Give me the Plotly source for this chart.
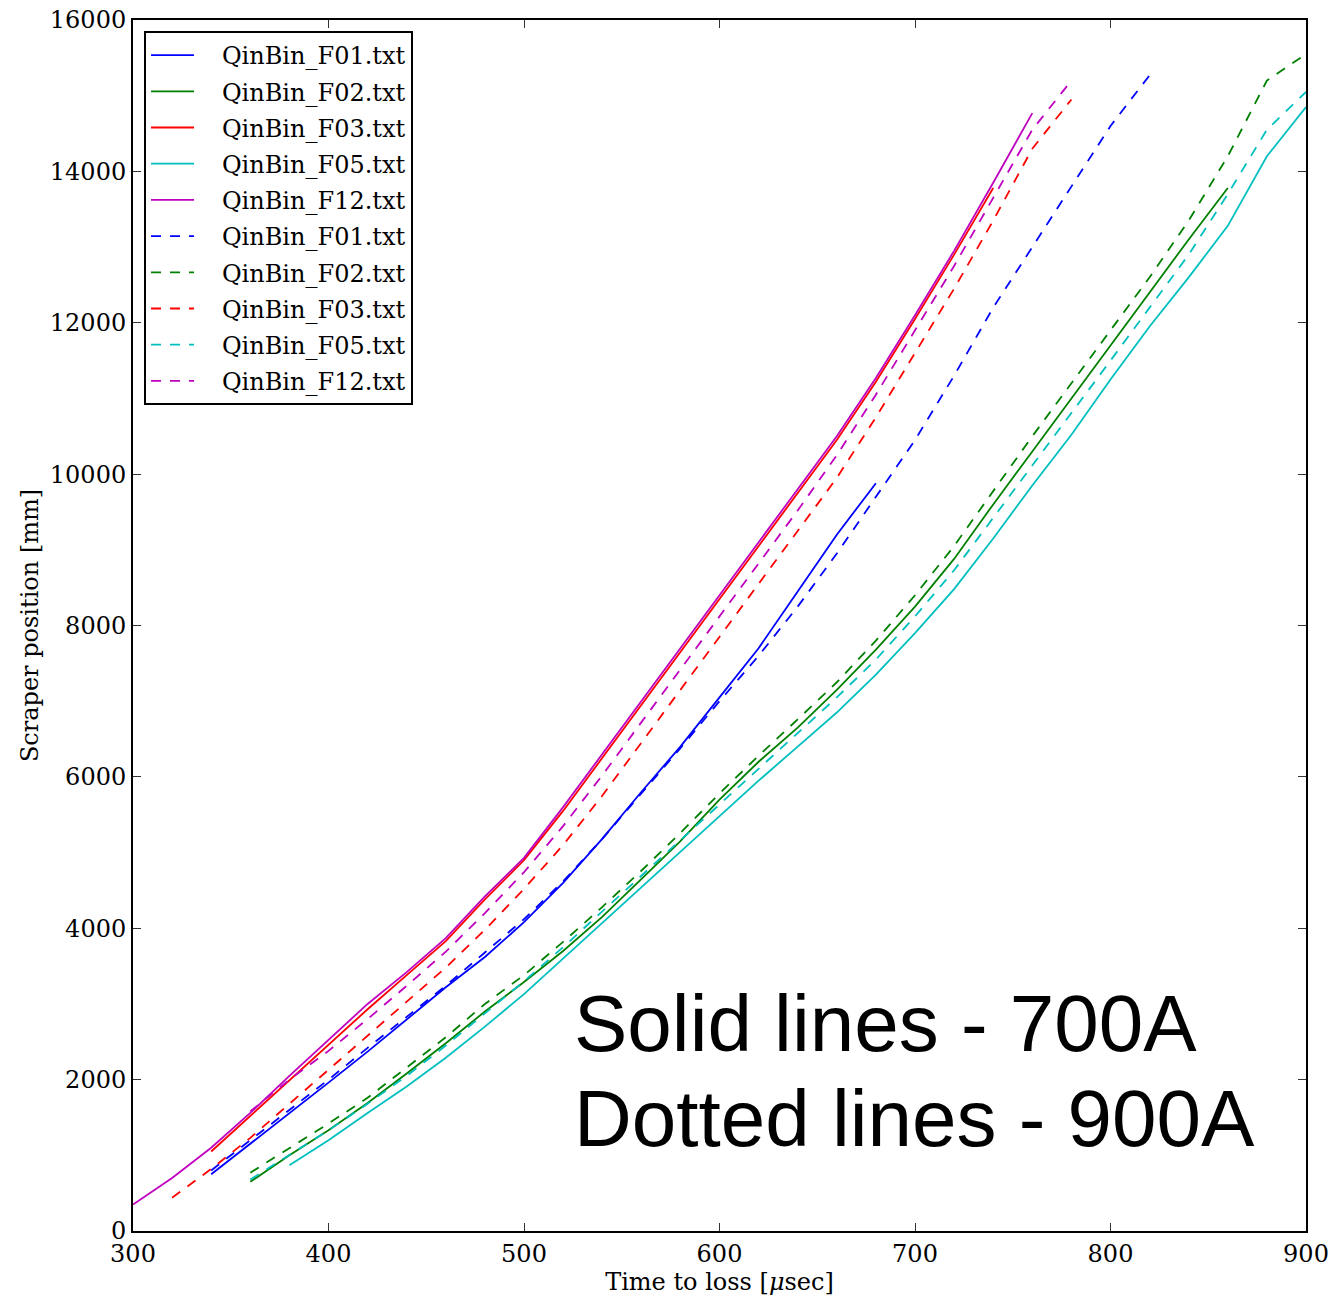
import plotly.graph_objects as go

# ---------------- data ----------------
t_f01_700 = [340, 360, 380, 400, 420, 440, 460, 480, 500, 520, 540, 560, 580, 600, 620, 640, 660, 680]
y_f01_700 = [750, 1150, 1560, 1960, 2370, 2800, 3220, 3620, 4080, 4600, 5180, 5800, 6400, 7050, 7700, 8450, 9200, 9880]

t_f02_700 = [360, 380, 400, 420, 440, 460, 480, 500, 520, 540, 560, 580, 600, 620, 640, 660, 680, 700, 720, 740, 760, 780, 800, 820, 840, 860]
y_f02_700 = [650, 1000, 1330, 1690, 2080, 2480, 2900, 3290, 3700, 4150, 4650, 5150, 5700, 6200, 6650, 7150, 7680, 8250, 8880, 9600, 10300, 11000, 11700, 12400, 13100, 13780]

t_f03_700 = [340, 360, 380, 400, 420, 440, 460, 480, 500, 520, 540, 560, 580, 600, 620, 640, 660, 680, 700, 720, 740]
y_f03_700 = [1050, 1520, 2000, 2470, 2930, 3380, 3830, 4380, 4900, 5550, 6250, 6950, 7650, 8350, 9050, 9750, 10450, 11220, 12050, 12900, 13780]

t_f05_700 = [380, 400, 420, 440, 460, 480, 500, 520, 540, 560, 580, 600, 620, 640, 660, 680, 700, 720, 740, 760, 780, 800, 820, 840, 860, 880, 900]
y_f05_700 = [870, 1200, 1560, 1910, 2290, 2700, 3130, 3600, 4080, 4550, 5020, 5480, 5950, 6400, 6850, 7350, 7900, 8480, 9150, 9850, 10520, 11250, 11950, 12600, 13280, 14200, 14850]

t_f12_700 = [300, 320, 340, 360, 380, 400, 420, 440, 460, 480, 500, 520, 540, 560, 580, 600, 620, 640, 660, 680, 700, 720, 740, 760]
y_f12_700 = [350, 700, 1100, 1560, 2050, 2530, 3000, 3420, 3870, 4420, 4930, 5600, 6300, 7000, 7700, 8400, 9100, 9800, 10500, 11270, 12100, 12950, 13850, 14770]

t_f01_900 = [340, 360, 380, 400, 420, 440, 460, 480, 500, 520, 540, 560, 580, 600, 620, 640, 660, 680, 700, 720, 740, 760, 780, 800, 820]
y_f01_900 = [800, 1200, 1600, 2000, 2420, 2830, 3240, 3680, 4120, 4620, 5180, 5780, 6380, 7000, 7600, 8250, 8950, 9700, 10450, 11300, 12200, 13000, 13800, 14600, 15270]

t_f02_900 = [360, 380, 400, 420, 440, 460, 480, 500, 520, 540, 560, 580, 600, 620, 640, 660, 680, 700, 720, 740, 760, 780, 800, 820, 840, 860, 880, 900]
y_f02_900 = [770, 1090, 1420, 1760, 2160, 2560, 3000, 3380, 3820, 4280, 4760, 5260, 5780, 6280, 6760, 7250, 7800, 8400, 9050, 9780, 10500, 11200, 11900, 12600, 13350, 14200, 15200, 15550]

t_f03_900 = [320, 340, 360, 380, 400, 420, 440, 460, 480, 500, 520, 540, 560, 580, 600, 620, 640, 660, 680, 700, 720, 740, 760, 780]
y_f03_900 = [440, 820, 1230, 1680, 2130, 2580, 3030, 3480, 3980, 4520, 5100, 5750, 6450, 7150, 7850, 8550, 9250, 9950, 10750, 11600, 12450, 13350, 14300, 14950]

t_f05_900 = [360, 380, 400, 420, 440, 460, 480, 500, 520, 540, 560, 580, 600, 620, 640, 660, 680, 700, 720, 740, 760, 780, 800, 820, 840, 860, 880, 900]
y_f05_900 = [680, 1000, 1330, 1680, 2050, 2450, 2870, 3300, 3750, 4220, 4700, 5170, 5640, 6100, 6570, 7050, 7550, 8120, 8730, 9420, 10120, 10800, 11500, 12200, 12900, 13700, 14550, 15050]

t_f12_900 = [360, 380, 400, 420, 440, 460, 480, 500, 520, 540, 560, 580, 600, 620, 640, 660, 680, 700, 720, 740, 760, 780]
y_f12_900 = [1580, 2000, 2380, 2800, 3240, 3690, 4200, 4740, 5350, 6020, 6720, 7420, 8120, 8820, 9520, 10250, 11050, 11900, 12750, 13650, 14550, 15200]

names = ["QinBin_F01.txt", "QinBin_F02.txt", "QinBin_F03.txt", "QinBin_F05.txt", "QinBin_F12.txt"]
colors = ["#0000ff", "#008000", "#ff0000", "#00bfbf", "#bf00bf"]

solid = [(t_f01_700, y_f01_700), (t_f02_700, y_f02_700), (t_f03_700, y_f03_700),
         (t_f05_700, y_f05_700), (t_f12_700, y_f12_700)]
dashed = [(t_f01_900, y_f01_900), (t_f02_900, y_f02_900), (t_f03_900, y_f03_900),
          (t_f05_900, y_f05_900), (t_f12_900, y_f12_900)]

x_ticks = [300, 400, 500, 600, 700, 800, 900]
y_ticks = [0, 2000, 4000, 6000, 8000, 10000, 12000, 14000, 16000]

pad = "\u00a0\u00a0\u00a0"
fig = go.Figure()
k = 0
for (t, y), n, c in zip(solid, names, colors):
    fig.add_trace(go.Scatter(x=t, y=y, mode="lines", name=pad + n, legendgroup=f"g{k}",
                             line=dict(color=c, width=1.8)))
    k += 1
for (t, y), n, c in zip(dashed, names, colors):
    fig.add_trace(go.Scatter(x=t, y=y, mode="lines", name=pad + n, legendgroup=f"g{k}",
                             line=dict(color=c, width=1.8, dash="10px,9px")))
    k += 1

serif = "DejaVu Serif"
axis_common = dict(showgrid=False, zeroline=False, showline=True, linecolor="black",
                   linewidth=2, mirror="ticks", ticks="inside", ticklen=8,
                   tickcolor="#333333", tickwidth=1, automargin=False,
                   tickfont=dict(family=serif, size=24, color="black"))

fig.update_layout(
    width=1335, height=1299,
    margin=dict(l=133, r=29, t=20, b=68),
    paper_bgcolor="white", plot_bgcolor="white",
    xaxis=dict(range=[300, 900], tickvals=x_ticks, ticktext=[str(v) for v in x_ticks],
               title=dict(text="Time to loss [<i>μ</i>sec]", font=dict(family=serif, size=24, color="black"),
                          standoff=3),
               **axis_common),
    yaxis=dict(range=[0, 16000], tickvals=y_ticks, ticktext=[str(v) for v in y_ticks],
               title=dict(text="Scraper position [mm]", font=dict(family=serif, size=24, color="black"),
                          standoff=4),
               **axis_common),
    legend=dict(x=0.0094, y=0.9909, xanchor="left", yanchor="top",
                bgcolor="white", bordercolor="black", borderwidth=2,
                font=dict(family=serif, size=24, color="black"),
                itemwidth=43, tracegroupgap=2),
    showlegend=True,
)

fig.add_annotation(xref="paper", yref="paper", x=0.374, y=0.2097, xanchor="left", yanchor="top",
                   text="Solid lines - 700A", showarrow=False, align="left",
                   font=dict(family="Liberation Sans", size=80, color="black"))
fig.add_annotation(xref="paper", yref="paper", x=0.374, y=0.1313, xanchor="left", yanchor="top",
                   text="Dotted lines - 900A", showarrow=False, align="left",
                   font=dict(family="Liberation Sans", size=80, color="black"))

fig.write_html("out.html")
